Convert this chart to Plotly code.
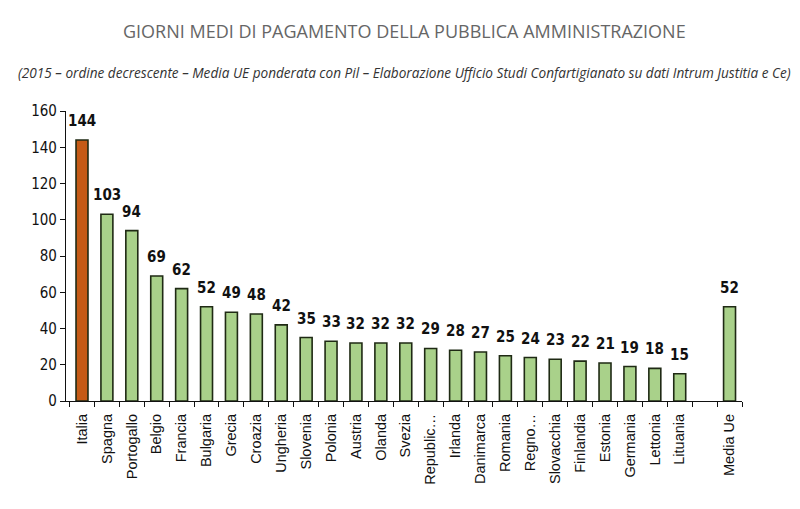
import plotly.graph_objects as go

categories = ["Italia", "Spagna", "Portogallo", "Belgio", "Francia", "Bulgaria", "Grecia",
              "Croazia", "Ungheria", "Slovenia", "Polonia", "Austria", "Olanda", "Svezia",
              "Republic…", "Irlanda", "Danimarca", "Romania", "Regno…", "Slovacchia",
              "Finlandia", "Estonia", "Germania", "Lettonia", "Lituania", " ", "Media Ue"]
values = [144, 103, 94, 69, 62, 52, 49, 48, 42, 35, 33, 32, 32, 32, 29, 28, 27, 25, 24,
          23, 22, 21, 19, 18, 15, None, 52]
y_ticks = [0, 20, 40, 60, 80, 100, 120, 140, 160]

title = "GIORNI MEDI DI PAGAMENTO DELLA PUBBLICA AMMINISTRAZIONE"
subtitle = ("(2015 – ordine decrescente – Media UE ponderata con Pil – Elaborazione Ufficio "
            "Studi Confartigianato su dati Intrum Justitia e Ce)")

colors = ["#C55A16" if c == "Italia" else "#A9D18A" for c in categories]

narrow = "DejaVu Sans Condensed, Liberation Sans, Arial"

OFF = 8  # page body margin
L, T = 66 - OFF, 111 - OFF
R = (800 + OFF) - 742
B = (509 + OFF) - 401
W, H = 800, 509
plot_w = W - L - R
plot_h = H - T - B


def px_x(p):
    return (p - OFF - L) / plot_w


def px_y(p):
    return 1 - (p - OFF - T) / plot_h


fig = go.Figure(go.Bar(
    x=categories, y=values,
    marker=dict(color=colors, line=dict(color="#1f2a14", width=1.6)),
    width=0.48, cliponaxis=False,
))

annotations = [
    dict(text=title, x=px_x(405), y=px_y(31), xref="paper", yref="paper", showarrow=False,
         font=dict(family="Open Sans, Liberation Sans", size=18, color="#666666"),
         xanchor="center", yanchor="middle"),
    dict(text="<i>" + subtitle + "</i>", x=px_x(404), y=px_y(72), xref="paper", yref="paper",
         showarrow=False,
         font=dict(family="Open Sans, Liberation Sans", size=13.6, color="#333333"),
         xanchor="center", yanchor="middle"),
]
for c, v in zip(categories, values):
    if v is None:
        continue
    annotations.append(dict(
        x=c, y=v, xref="x", yref="y", text="<b>%d</b>" % v, showarrow=False,
        yanchor="middle", xanchor="center", yshift=19,
        font=dict(family=narrow, size=15, color="#111111"),
    ))

fig.update_layout(
    width=W, height=H,
    margin=dict(l=L, r=R, t=T, b=B, autoexpand=False),
    paper_bgcolor="white", plot_bgcolor="white",
    showlegend=False,
    font=dict(family=narrow, color="#111111"),
    annotations=annotations,
)

fig.update_xaxes(
    type="category", showline=True, linecolor="#111111", linewidth=1.2,
    ticks="outside", tickson="boundaries", ticklen=5, tickcolor="#111111",
    tickangle=-90, automargin=False, ticklabelstandoff=6,
    tickfont=dict(family="Liberation Sans, Arial", size=14.5, color="#111111"),
    showgrid=False,
)
fig.update_yaxes(
    range=[0, 160], tickvals=y_ticks, showline=True, linecolor="#111111", linewidth=1.2,
    ticks="outside", ticklen=5, tickcolor="#111111", showgrid=False, zeroline=False,
    automargin=False,
    tickfont=dict(family=narrow, size=15, color="#111111"),
)

fig.write_html("out.html")
